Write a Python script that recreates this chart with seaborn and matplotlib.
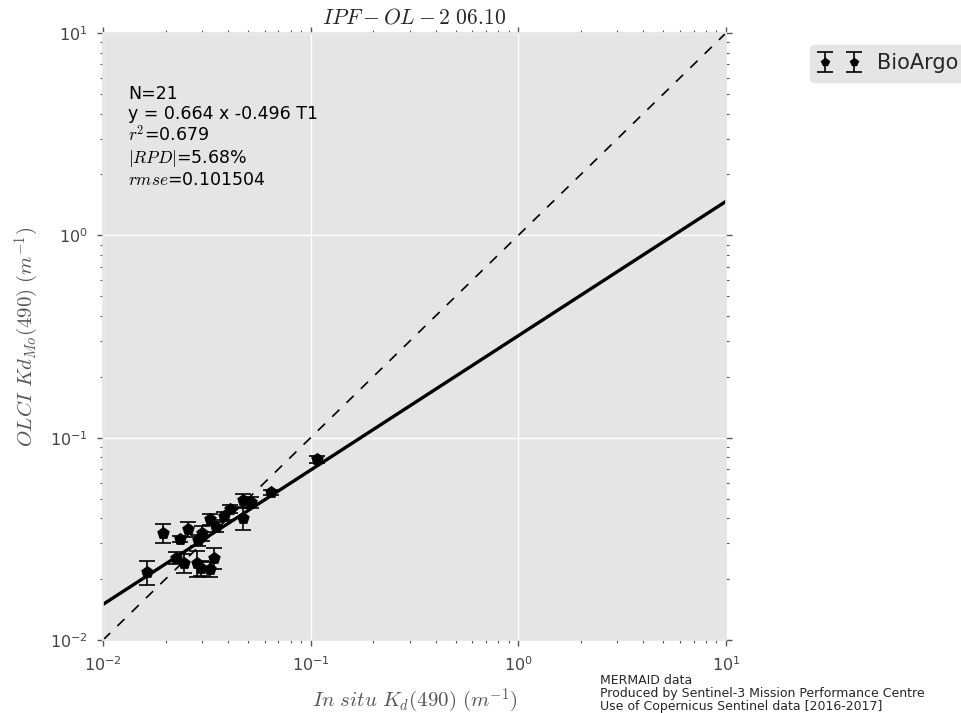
import numpy as np
import pandas as pd
import matplotlib
matplotlib.use("Agg")
import matplotlib.pyplot as plt
import seaborn as sns

# ---- data ----
insitu_kd = [0.0163, 0.0195, 0.0235, 0.0257, 0.0225, 0.0246, 0.0284, 0.0287, 0.0300,
             0.0342, 0.0297, 0.0328, 0.0328, 0.0350, 0.0383, 0.0409, 0.0472, 0.0516,
             0.0472, 0.0644, 0.1072]
olci_kd = [0.0217, 0.0338, 0.0315, 0.0353, 0.0254, 0.0240, 0.0240, 0.0312, 0.0338,
           0.0254, 0.0227, 0.0224, 0.0396, 0.0362, 0.0410, 0.0444, 0.0491, 0.0480,
           0.0400, 0.0538, 0.0783]
olci_err = [0.0030, 0.0035, 0.0010, 0.0030, 0.0017, 0.0025, 0.0035, 0.0020, 0.0030,
            0.0030, 0.0020, 0.0020, 0.0025, 0.0020, 0.0020, 0.0020, 0.0035, 0.0030,
            0.0050, 0.0015, 0.0030]
slope = 0.664
intercept = -0.496
line_x = [0.01, 10.0]
stats_lines = ["N=21", "y = 0.664 x -0.496 T1", r"$r^2$=0.679", r"$|RPD|$=5.68%",
               r"$rmse$=0.101504"]
title = r"$IPF-OL-2\ 06.10$"
xlabel = r"$In\ situ\ K_d(490)\ (m^{-1})$"
ylabel = r"$OLCI\ Kd_{Mo}(490)\ (m^{-1})$"
legend_label = "BioArgo"
footer = ("MERMAID data\nProduced by Sentinel-3 Mission Performance Centre\n"
          "Use of Copernicus Sentinel data [2016-2017]")

sns.set_theme(style="darkgrid", rc={
    "axes.facecolor": "#E5E5E5",
    "axes.edgecolor": "#E5E5E5",
    "grid.color": "white",
    "grid.linewidth": 1.0,
    "xtick.direction": "out",
    "ytick.direction": "out",
    "xtick.color": "#555555",
    "ytick.color": "#555555",
    "xtick.bottom": True, "xtick.top": True,
    "ytick.left": True, "ytick.right": True,
})
plt.rcParams["font.family"] = ["DejaVu Sans"]
plt.rcParams["mathtext.fontset"] = "cm"
plt.rcParams["axes.unicode_minus"] = False

fig = plt.figure(figsize=(9.61, 7.13), dpi=100)
ax = fig.add_axes([103 / 961, 1 - 640 / 713, (726 - 103) / 961, (640 - 33) / 713])

df = pd.DataFrame({"x": insitu_kd, "y": olci_kd, "err": olci_err})
fit_df = pd.DataFrame({"x": line_x,
                       "y": [10 ** (slope * np.log10(v) + intercept) for v in line_x]})
one_df = pd.DataFrame({"x": line_x, "y": line_x})

ax.set_xscale("log")
ax.set_yscale("log")

sns.lineplot(data=one_df, x="x", y="y", ax=ax, color="black", lw=1.2,
             linestyle=(0, (6, 6)), estimator=None, legend=False)
sns.lineplot(data=fit_df, x="x", y="y", ax=ax, color="black", lw=2.4,
             estimator=None, legend=False)
eb = ax.errorbar(df["x"], df["y"], yerr=df["err"], fmt="p", color="black",
                 ms=6, capsize=6, elinewidth=1.2, capthick=1.2, label=legend_label,
                 zorder=4)
sns.scatterplot(data=df, x="x", y="y", ax=ax, marker="p", s=75, color="black",
                edgecolor="black", legend=False, zorder=5)

ax.set_xlim(0.01, 10)
ax.set_ylim(0.01, 10)
ax.grid(True, which="major", color="white", lw=1)
ax.grid(False, which="minor")
ax.tick_params(which="major", length=4, width=1, labelsize=11.5, color="#555555",
               labelcolor="#444444", pad=7, top=True, right=True)
ax.tick_params(which="minor", length=2, width=0.8, color="#555555", top=True,
               right=True)
ax.set_xlabel(xlabel, fontsize=15, color="#555555", labelpad=9)
ax.set_ylabel(ylabel, fontsize=15, color="#555555")
ax.yaxis.set_label_coords(-0.10, 0.5)
ax.set_title(title, fontsize=15.5, pad=7)

ax.text(0.04, 0.915, "\n".join(stats_lines), transform=ax.transAxes, fontsize=12.5,
        va="top", ha="left", color="black", linespacing=1.15)

leg = fig.legend(handles=[eb], labels=[legend_label], loc="upper left",
                 bbox_to_anchor=(810 / 961, 1 - 45 / 713), numpoints=2,
                 fontsize=15, frameon=True, facecolor="#E5E5E5", edgecolor="#E5E5E5",
                 handlelength=2.0, borderaxespad=0)
leg.get_frame().set_alpha(1)

fig.text(600 / 961, 1 - 674 / 713, footer, fontsize=9, va="top", ha="left",
         linespacing=1.0)

fig.savefig("out.png", dpi=100)
